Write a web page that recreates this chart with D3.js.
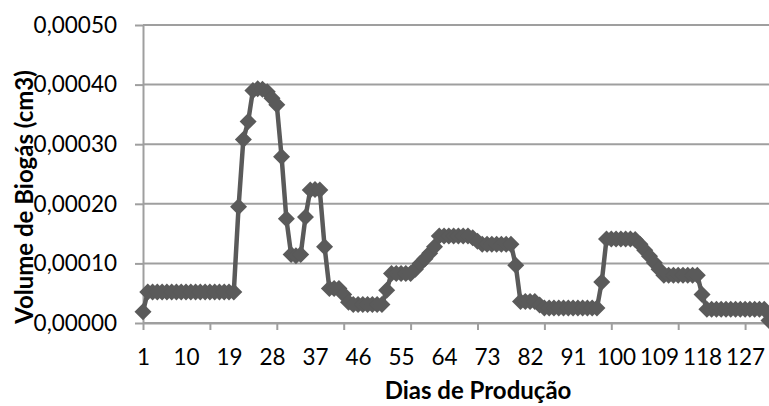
<!DOCTYPE html>
<html>
<head>
<meta charset="utf-8">
<script src="https://cdn.jsdelivr.net/npm/d3@7"></script>
<style>
  body { margin: 0; background: #fff; }
  svg { display: block; font-family: Lato, "Noto Sans", sans-serif; }
</style>
</head>
<body>
<svg width="769" height="406"></svg>
<script>
// dias 1..141 no eixo (o gráfico original está cortado à direita)
const days = d3.range(1, 142);
const biogas = [
  0.000019,
  0.000052, 0.000052, 0.000052, 0.000052, 0.000052, 0.000052, 0.000052, 0.000052, 0.000052, 0.000052,
  0.000052, 0.000052, 0.000052, 0.000052, 0.000052, 0.000052, 0.000052, 0.000052, 0.000052,
  0.000195, 0.000308, 0.000338, 0.000390, 0.000393, 0.000392, 0.000388, 0.000377, 0.000366, 0.000279,
  0.000175, 0.000115, 0.000113, 0.000115, 0.000178, 0.000223, 0.000224, 0.000223, 0.000128,
  0.000058, 0.000058, 0.000058, 0.000048, 0.000035,
  0.000031, 0.000031, 0.000031, 0.000031, 0.000031, 0.000031, 0.000031,
  0.000055, 0.000083, 0.000083, 0.000083, 0.000083, 0.000083,
  0.000090, 0.000100, 0.000108, 0.000117, 0.000128,
  0.000146, 0.000146, 0.000146, 0.000146, 0.000146, 0.000146, 0.000146, 0.000143, 0.000137,
  0.000132, 0.000132, 0.000132, 0.000132, 0.000132, 0.000132, 0.000132,
  0.000097, 0.000036, 0.000036, 0.000036, 0.000036, 0.000030,
  0.000025, 0.000025, 0.000025, 0.000025, 0.000025, 0.000025, 0.000025, 0.000025, 0.000025, 0.000025, 0.000025, 0.000025,
  0.000069, 0.000141, 0.000141, 0.000141, 0.000141, 0.000141, 0.000141, 0.000140,
  0.000132, 0.000122, 0.000112, 0.000101, 0.000090,
  0.000080, 0.000080, 0.000080, 0.000080, 0.000080, 0.000080, 0.000080, 0.000080,
  0.000048,
  0.000023, 0.000023, 0.000023, 0.000023, 0.000023, 0.000023, 0.000023, 0.000023, 0.000023, 0.000023, 0.000023, 0.000023, 0.000023,
  0.000004
];
const yTicks = [0, 0.0001, 0.0002, 0.0003, 0.0004, 0.0005];
const xLabelDays = [1, 10, 19, 28, 37, 46, 55, 64, 73, 82, 91, 100, 109, 118, 127];
const xTickDays = [1, 15, 29, 43, 57, 71, 85, 99, 113, 127, 141];

const svg = d3.select('svg');
const plotLeft = 143, plotRight = 812, plotTop = 25, plotBottom = 323;
const gridColor = '#9f9f9f';
const lineColor = '#5a5a5a';
const tickFont = 22.5, titleFont = 24;

const x = d3.scalePoint().domain(days).range([plotLeft, plotRight]);
const y = d3.scaleLinear().domain([0, 0.0005]).range([plotBottom, plotTop]);

const ptBR = d3.formatLocale({decimal: ',', thousands: '.', grouping: [3], currency: ['R$', '']});
const fmt = ptBR.format('.5f');

// linhas de grade
svg.append('g')
  .selectAll('line')
  .data(yTicks)
  .enter()
  .append('line')
  .attr('x1', plotLeft)
  .attr('x2', plotRight)
  .attr('y1', d => y(d))
  .attr('y2', d => y(d))
  .attr('stroke', gridColor)
  .attr('stroke-width', 2);

// eixo y
var gy = svg.append('g')
  .attr('transform', `translate(${plotLeft},0)`)
  .call(d3.axisLeft(y).tickValues(yTicks).tickSize(8).tickSizeOuter(0).tickPadding(18).tickFormat(fmt));
gy.select('.domain').attr('stroke', gridColor).attr('stroke-width', 2);
gy.selectAll('.tick line').attr('stroke', gridColor).attr('stroke-width', 2);
gy.selectAll('text').attr('font-size', tickFont).attr('fill', '#000').attr('font-family', 'Lato, sans-serif');

// eixo x: marcas a cada 14 dias
var gxTicks = svg.append('g')
  .attr('transform', `translate(0,${plotBottom})`)
  .call(d3.axisBottom(x).tickValues(xTickDays).tickSize(7).tickSizeOuter(0).tickFormat(''));
gxTicks.select('.domain').attr('stroke', gridColor).attr('stroke-width', 2);
gxTicks.selectAll('.tick line').attr('stroke', gridColor).attr('stroke-width', 2);

// rótulos a cada 9 dias
var gxLabels = svg.append('g')
  .attr('transform', `translate(0,${plotBottom})`)
  .call(d3.axisBottom(x).tickValues(xLabelDays).tickSize(0).tickPadding(26));
gxLabels.select('.domain').remove();
gxLabels.selectAll('text').attr('font-size', tickFont).attr('fill', '#000').attr('font-family', 'Lato, sans-serif');

// série
const line = d3.line()
  .x((d, i) => x(days[i]))
  .y(d => y(d));

svg.append('path')
  .datum(biogas)
  .attr('d', line)
  .attr('fill', 'none')
  .attr('stroke', lineColor)
  .attr('stroke-width', 4.5)
  .attr('stroke-linejoin', 'round');

const h = 8.5;
svg.append('g')
  .selectAll('path')
  .data(biogas)
  .enter()
  .append('path')
  .attr('transform', (d, i) => `translate(${x(days[i])},${y(d)})`)
  .attr('d', `M0,${-h}L${h},0L0,${h}L${-h},0Z`)
  .attr('fill', lineColor);

// títulos dos eixos
svg.append('text')
  .attr('x', 478)
  .attr('y', 399)
  .attr('text-anchor', 'middle')
  .attr('font-size', titleFont)
  .attr('font-weight', 'bold')
  .text('Dias de Produção');

svg.append('text')
  .attr('transform', 'translate(33,197) rotate(-90)')
  .attr('text-anchor', 'middle')
  .attr('font-size', titleFont)
  .attr('font-weight', 'bold')
  .text('Volume de Biogás (cm3)');
</script>
</body>
</html>
